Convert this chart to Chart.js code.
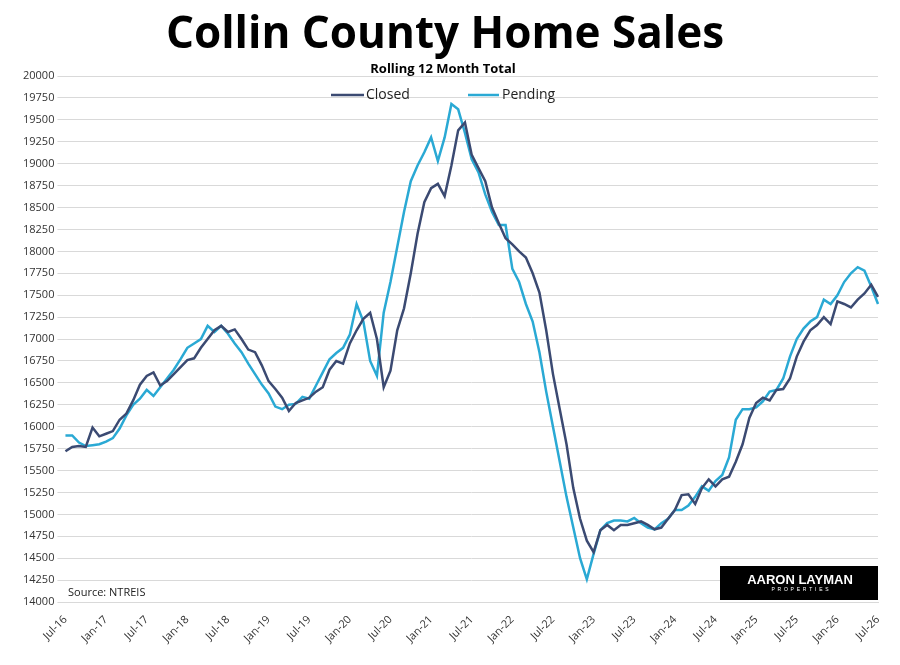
<!DOCTYPE html>
<html><head><meta charset="utf-8">
<script src="https://cdn.jsdelivr.net/npm/chart.js@4"></script>
<style>html,body{margin:0;padding:0;background:#fff}#wrap{width:900px;height:665px;position:relative}</style>
</head><body><div id="wrap"><canvas id="c" width="900" height="665"></canvas></div>
<script>
const monthNames=["Jan","Feb","Mar","Apr","May","Jun","Jul","Aug","Sep","Oct","Nov","Dec"];
const categories=[];
for(let i=0;i<121;i++){const m=(6+i)%12;const y=16+Math.floor((6+i)/12);categories.push(monthNames[m]+"-"+y);}
const closed=[15720,15770,15780,15770,15990,15890,15920,15950,16080,16150,
16300,16480,16580,16620,16470,16520,16600,16680,16760,16780,
16900,17000,17100,17150,17080,17110,17000,16880,16850,16700,
16520,16430,16330,16180,16270,16300,16330,16400,16450,16650,
16750,16720,16950,17100,17230,17300,17000,16450,16640,17100,
17350,17750,18200,18560,18720,18770,18630,18980,19380,19470,
19100,18950,18800,18500,18320,18150,18080,18000,17930,17750,
17530,17100,16600,16200,15800,15300,14950,14700,14570,14820,
14880,14820,14880,14880,14900,14920,14880,14830,14850,14950,
15050,15220,15230,15120,15300,15400,15320,15400,15430,15600,
15800,16100,16270,16330,16300,16420,16430,16550,16800,16970,
17100,17160,17250,17170,17430,17400,17360,17450,17520,17620,17480];
const pending=[15900,15900,15820,15780,15790,15800,15830,15870,15980,16130,
16250,16320,16420,16350,16450,16550,16650,16770,16900,16950,
17000,17150,17080,17150,17060,16950,16850,16720,16600,16480,
16380,16230,16200,16250,16260,16340,16320,16470,16620,16770,
16840,16900,17050,17400,17200,16750,16580,17300,17650,18050,
18450,18800,18980,19130,19300,19030,19300,19680,19620,19350,
19050,18900,18650,18450,18300,18300,17800,17650,17400,17200,
16850,16400,16000,15600,15200,14850,14500,14260,14550,14820,
14900,14930,14930,14920,14960,14900,14850,14830,14900,14950,
15050,15050,15100,15200,15320,15270,15380,15450,15650,16080,
16200,16200,16220,16290,16400,16420,16550,16800,17000,17120,
17200,17250,17450,17400,17500,17650,17750,17820,17780,17600,17400];
const CLOSED_COLOR="#3b4a72", PENDING_COLOR="#2aa9d4";
const deco={id:'deco',afterDraw(ch){
 const c=ch.ctx;c.save();
 c.fillStyle="#000";c.textAlign="center";c.textBaseline="middle";
 c.font="bold 44px 'Open Sans', sans-serif";c.fillText("Collin County Home Sales",445,35);
 c.font="bold 13px 'Open Sans', sans-serif";c.fillText("Rolling 12 Month Total",443,69);
 c.font="14px 'Open Sans', sans-serif";c.textAlign="left";
 c.lineWidth=2.5;
 c.strokeStyle=CLOSED_COLOR;c.beginPath();c.moveTo(331,95);c.lineTo(364,95);c.stroke();
 c.fillStyle="#222";c.fillText("Closed",366,95);
 c.strokeStyle=PENDING_COLOR;c.beginPath();c.moveTo(468,95);c.lineTo(499,95);c.stroke();
 c.fillText("Pending",502,95);
 c.font="11px 'Open Sans', sans-serif";c.fillText("Source: NTREIS",68,593);
 c.fillStyle="#000";c.fillRect(720,566,158,34);
 c.fillStyle="#fff";c.textAlign="center";c.font="bold 13px 'Liberation Sans', sans-serif";
 c.fillText("AARON LAYMAN",800,580);
 c.font="5px 'Liberation Sans', sans-serif";c.fillText("P  R  O  P  E  R  T  I  E  S",800,590);
 c.restore();
}};
new Chart(document.getElementById('c'),{type:'line',
 data:{labels:categories,datasets:[
  {label:'Closed',data:closed,borderColor:CLOSED_COLOR,borderWidth:2.5,pointRadius:0,tension:0},
  {label:'Pending',data:pending,borderColor:PENDING_COLOR,borderWidth:2.5,pointRadius:0,tension:0}]},
 options:{responsive:false,animation:false,
  layout:{padding:{top:76,right:22,left:20,bottom:17}},
  plugins:{legend:{display:false},tooltip:{enabled:false}},
  scales:{
   x:{grid:{display:false},border:{color:'#d9d9d9'},
      ticks:{autoSkip:false,maxRotation:45,minRotation:45,color:'#333',font:{size:11,family:"'Open Sans', sans-serif"},
        callback:function(v,i){return i%6===0?categories[i]:'';}}},
   y:{min:14000,max:20000,grid:{color:'#d9d9d9'},border:{display:false},
      ticks:{stepSize:250,color:'#333',font:{size:11,family:"'Open Sans', sans-serif"},
        callback:function(v){return String(v);}}}
  }},
 plugins:[deco]});
</script></body></html>
